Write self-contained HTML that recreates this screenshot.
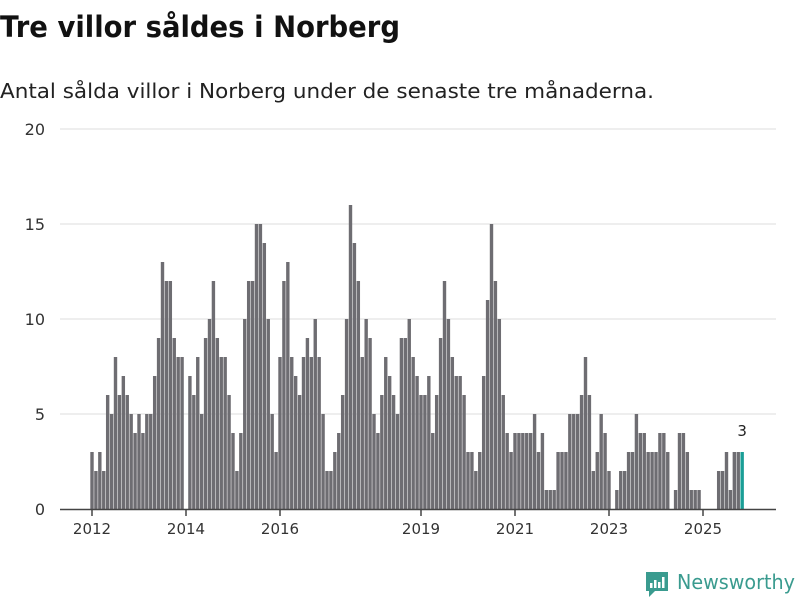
<!DOCTYPE html>
<html><head><meta charset="utf-8"><style>
html,body{margin:0;padding:0;background:#fff;}
svg{display:block;font-family:"DejaVu Sans","Liberation Sans",sans-serif;}
</style></head><body>
<svg id="chart" width="800" height="600" viewBox="0 0 800 600">
<text x="0" y="37" font-size="29" font-weight="bold" fill="#111" textLength="400" lengthAdjust="spacingAndGlyphs">Tre villor såldes i Norberg</text>
<text x="0" y="98" font-size="20" fill="#222" textLength="654" lengthAdjust="spacingAndGlyphs">Antal sålda villor i Norberg under de senaste tre månaderna.</text>
<g id="grid"></g>
<g id="bars"></g>
<g id="xaxis"></g>
<g>
<path d="M646 572h22v19h-13l-6 6v-6h-3z" fill="#3a9b8f"/>
<rect x="650" y="583" width="2.5" height="5" fill="#fff"/>
<rect x="654" y="580" width="2.5" height="8" fill="#fff"/>
<rect x="658" y="582" width="2.5" height="6" fill="#fff"/>
<rect x="662" y="577" width="2.5" height="11" fill="#fff"/>
<text x="677" y="589" font-size="20" fill="#3a9b8f" textLength="118" lengthAdjust="spacingAndGlyphs">Newsworthy</text>
</g>
</svg>
<script>
const values = [3,2,3,2,6,5,8,6,7,6,5,4,5,4,5,5,7,9,13,12,12,9,8,8,
0,7,6,8,
5,9,10,12,9,8,8,6,4,2,4,10,12,12,15,15,14,10,5,3,8,12,13,8,7,6,8,9,8,10,
8,5,2,2,3,4,6,10,16,14,12,8,10,9,5,4,6,8,7,6,5,9,9,10,8,7,6,6,7,4,
6,9,12,10,8,7,7,6,3,3,2,3,7,11,15,12,10,6,4,3,4,4,4,4,4,5,3,4,
1,1,1,3,3,3,5,5,5,6,8,6,2,3,5,4,2,0,1,2,2,3,3,5,4,4,3,3,3,4,4,
3,0,1,4,4,3,1,1,1,0,0,0,0,2,2,3,1,3,3,3];
const startYear = 2012;
const yTicks = [0,5,10,15,20];
const xTickYears = [2012,2014,2016,2019,2021,2023,2025];
const NS='http://www.w3.org/2000/svg';
const x0=92, monthW=47/12, yBase=509, yUnit=19;
const xScale = i => x0 + i*monthW;
const yScale = v => yBase - v*yUnit;
function mk(tag, attrs, parent){const e=document.createElementNS(NS,tag);for(const k in attrs)e.setAttribute(k,attrs[k]);parent.appendChild(e);return e;}
const grid=document.getElementById('grid');
yTicks.forEach(t=>{
  if(t>0){const l=mk('line',{x1:60,x2:776,y1:yScale(t),y2:yScale(t),stroke:'#ddd','stroke-width':1},grid);
  
  }
  const tx=mk('text',{x:45,y:yScale(t)+6,'font-size':16,'text-anchor':'end',fill:'#333'},grid);
  tx.textContent=t;
  
  
});
const bars=document.getElementById('bars');
values.forEach((v,i)=>{
  if(v<=0)return;
  const last=i===values.length-1;
  const r=mk('rect',{x:xScale(i)-1.7,y:yScale(v),width:3.4,height:v*yUnit,fill:last?'#1a9e96':'#6e6d72'},bars);
  
  
});
const li=values.length-1;
const lab=mk('text',{x:xScale(li),y:yScale(values[li])-16,'font-size':15,'text-anchor':'middle',fill:'#222'},bars);
lab.textContent=values[li];


const xa=document.getElementById('xaxis');
const ax=mk('line',{x1:60,x2:776,y1:yBase+0.5,y2:yBase+0.5,stroke:'#444','stroke-width':1.5},xa);


xTickYears.forEach(y=>{
  const x=xScale((y-startYear)*12);
  const t=mk('line',{x1:x,x2:x,y1:yBase,y2:yBase+7,stroke:'#444','stroke-width':1.5},xa);
  
  
  const tx=mk('text',{x:x,y:yBase+25,'font-size':15,'text-anchor':'middle',fill:'#333'},xa);
  tx.textContent=y;
  
  
});
</script>
</body></html>
